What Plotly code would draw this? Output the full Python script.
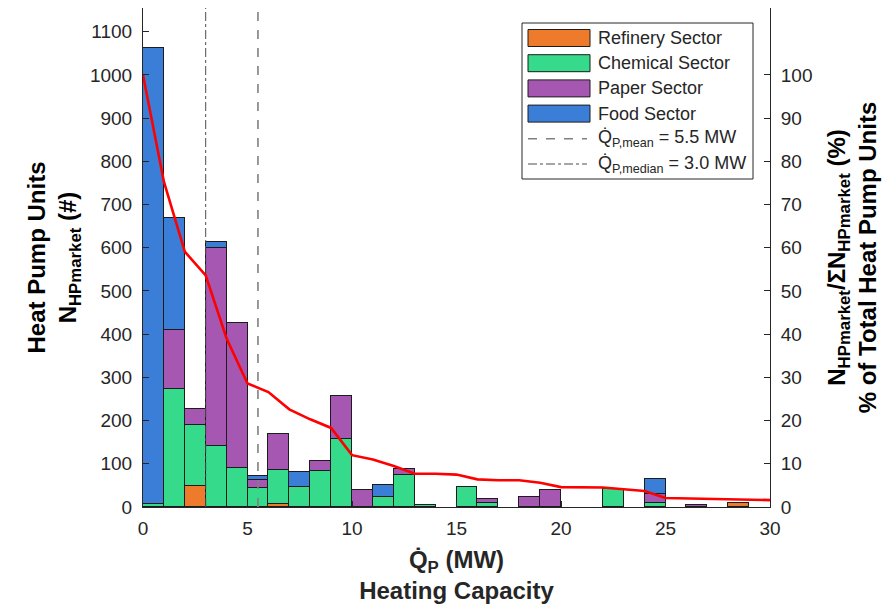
import plotly.graph_objects as go

# ---------------- data ----------------
bin_edges = list(range(0, 31))  # heating capacity bins, MW

refinery = [0, 0, 48, 0, 0, 0, 8, 0, 0, 0, 0, 0, 0, 0, 0,
            0, 0, 0, 0, 0, 0, 0, 0, 0, 0, 0, 0, 0, 10, 0]
chemical = [7, 274, 141, 141, 91, 43, 77, 46, 83, 158, 0, 23, 75, 4, 0,
            46, 9, 0, 0, 0, 0, 0, 41, 0, 9, 0, 0, 0, 0, 0]
paper = [0, 135, 39, 459, 335, 19, 85, 0, 23, 100, 40, 0, 14, 0, 0,
         0, 9, 0, 23, 39, 0, 0, 0, 0, 22, 0, 5, 0, 0, 0]
food = [1056, 259, 0, 13, 0, 10, 0, 36, 0, 0, 0, 29, 0, 0, 0,
        0, 0, 0, 0, 0, 0, 0, 0, 0, 33, 0, 0, 0, 0, 0]

# share of total units (%) at each bin edge (red curve)
pct_units = [100, 75.3, 59.1, 53.6, 39.0, 28.6, 26.6, 22.6, 20.3, 18.3, 12.0,
             11.0, 9.5, 7.7, 7.7, 7.5, 6.4, 6.2, 6.2, 5.6, 4.6,
             4.6, 4.5, 4.1, 3.7, 2.1, 2.0, 1.9, 1.8, 1.7, 1.6]

mean_mw = 5.5
median_mw = 3.0

left_ticks = list(range(0, 1101, 100))
right_ticks = list(range(0, 101, 10))
x_ticks = list(range(0, 31, 5))

# ---------------- styling ----------------
FONT = "Liberation Sans, Arial, Helvetica, sans-serif"
TXT = "#262626"
EDGE = "#1c1c1c"
left_range = [0, 1155]
right_range = [0, 115.5]

sectors = [
    ("Refinery Sector", refinery, "#EE7B2C"),
    ("Chemical Sector", chemical, "#35DA8A"),
    ("Paper Sector", paper, "#A557B1"),
    ("Food Sector", food, "#3B7ED8"),
]
ref_lines = [
    (f"Q̇<sub>P,mean</sub> = {mean_mw:.1f} MW", mean_mw, "#808080", 1.6, "dash"),
    (f"Q̇<sub>P,median</sub> = {median_mw:.1f} MW", median_mw, "#4d4d4d", 1.0, "dashdot"),
]

centers = [(bin_edges[i] + bin_edges[i + 1]) / 2 for i in range(len(bin_edges) - 1)]
widths = [bin_edges[i + 1] - bin_edges[i] for i in range(len(bin_edges) - 1)]

fig = go.Figure()
for name, vals, col in sectors:
    fig.add_trace(go.Bar(
        x=centers, y=[v if v else None for v in vals], width=widths, name=name,
        marker=dict(color=col, line=dict(color=EDGE, width=1)),
    ))

for name, xv, col, lw, dash in ref_lines:
    fig.add_trace(go.Scatter(
        x=[xv, xv], y=left_range, mode="lines", name=name,
        line=dict(color=col, width=lw, dash=dash),
    ))

fig.add_trace(go.Scatter(
    x=bin_edges, y=pct_units, yaxis="y2", mode="lines", name="% of total",
    line=dict(color="#FF0000", width=2.6),
))

# ---------------- legend box (MATLAB-like wide swatches) ----------------
M_L, M_R, M_T, M_B = 135, 132, 0, 108
W, H = 894, 607
PW, PH = W - M_L - M_R, H - M_T - M_B
OFF = 8  # page offset of the figure inside the browser window


def px(xs):
    return (xs - OFF - M_L) / PW


def py(ys):
    return 1 - (ys - OFF - M_T) / PH


box = dict(l=522, r=753, t=23, b=179)
sw_l, sw_r, sw_h = 528, 590, 17
row0, row_step = 38, 25.2
text_x = 596

shapes = [dict(type="rect", xref="paper", yref="paper",
               x0=px(box["l"]), x1=px(box["r"]), y0=py(box["b"]), y1=py(box["t"]),
               fillcolor="white", line=dict(color=TXT, width=1), layer="above")]
annotations = []
legend_items = [(n, "rect", c, None, None) for n, _, c in sectors] + \
               [(n, "line", c, lw, d) for n, _, c, lw, d in ref_lines]
for i, (name, kind, col, lw, dash) in enumerate(legend_items):
    yc = row0 + i * row_step
    if kind == "rect":
        shapes.append(dict(type="rect", xref="paper", yref="paper",
                           x0=px(sw_l), x1=px(sw_r),
                           y0=py(yc + sw_h / 2), y1=py(yc - sw_h / 2),
                           fillcolor=col, line=dict(color=EDGE, width=1), layer="above"))
    else:
        shapes.append(dict(type="line", xref="paper", yref="paper",
                           x0=px(sw_l), x1=px(sw_r - 3), y0=py(yc), y1=py(yc),
                           line=dict(color=col, width=lw, dash=dash), layer="above"))
    annotations.append(dict(text=name, xref="paper", yref="paper",
                            x=px(text_x), y=py(yc), xanchor="left", yanchor="middle",
                            showarrow=False, font=dict(family=FONT, size=18, color=TXT)))

axis_common = dict(
    showgrid=False, zeroline=False, showline=True, linecolor=TXT, linewidth=1,
    ticks="inside", ticklen=6, tickcolor=TXT,
    tickfont=dict(family=FONT, size=19, color=TXT),
)

fig.update_layout(
    width=W, height=H,
    margin=dict(l=M_L, r=M_R, t=M_T, b=M_B, autoexpand=False),
    paper_bgcolor="white", plot_bgcolor="white",
    barmode="stack", bargap=0,
    font=dict(family=FONT, color=TXT),
    showlegend=False,
    shapes=shapes,
    annotations=annotations,
    xaxis=dict(
        range=[0, 30], tickvals=x_ticks, mirror=True, ticklabelstandoff=4,
        title=dict(text="<b>Q̇<sub>P</sub> (MW)</b><br><b>Heating Capacity</b>",
                   font=dict(family=FONT, size=24, color=TXT), standoff=13),
        **axis_common,
    ),
    yaxis=dict(
        range=left_range, tickvals=left_ticks, mirror=True, ticklabelstandoff=6,
        title=dict(text="<b>Heat Pump Units</b><br><b>N<sub>HPmarket</sub> (#)</b>",
                   font=dict(family=FONT, size=24, color="black"), standoff=6),
        **axis_common,
    ),
    yaxis2=dict(
        range=right_range, tickvals=right_ticks, overlaying="y", side="right",
        ticklabelstandoff=6,
        title=dict(text="<b>N<sub>HPmarket</sub>/ΣN<sub>HPmarket</sub> (%)</b><br><b>% of Total Heat Pump Units</b>",
                   font=dict(family=FONT, size=24, color="black"), standoff=16),
        **axis_common,
    ),
)

fig.write_html("out.html")
